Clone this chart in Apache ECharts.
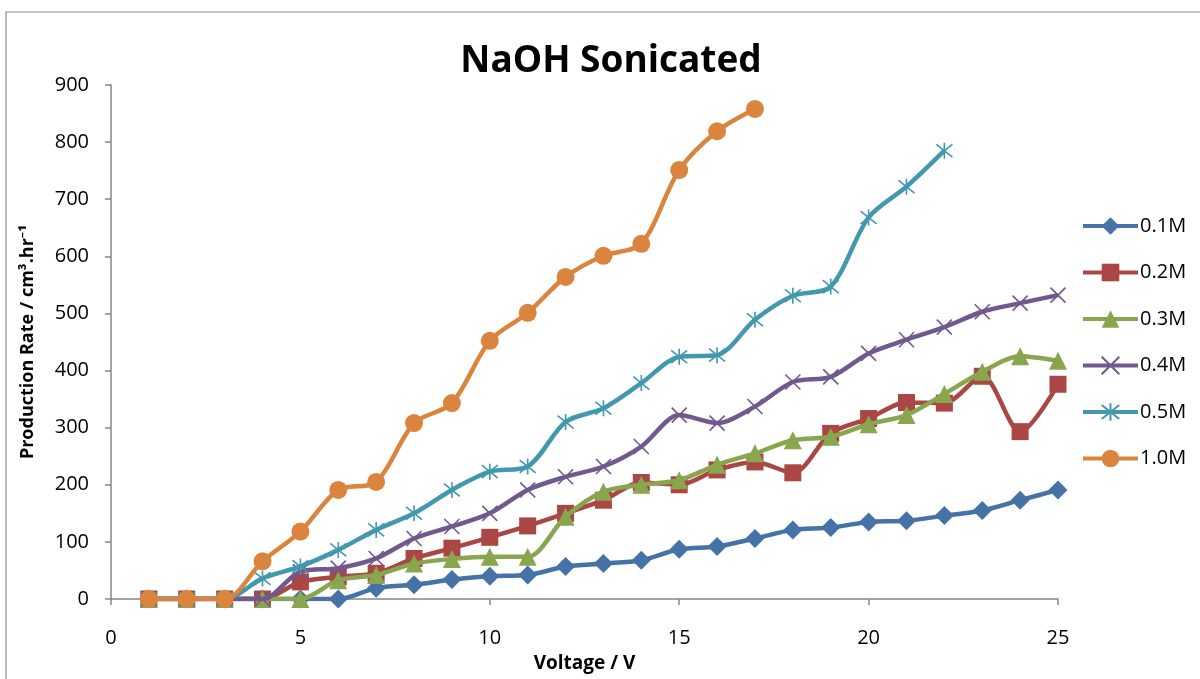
<!DOCTYPE html>
<html>
<head>
<meta charset="utf-8">
<script src="https://cdn.jsdelivr.net/npm/echarts@6/dist/echarts.min.js"></script>
<style>
html,body{margin:0;padding:0;background:#fff;}
#chart{width:1200px;height:679px;}
</style>
</head>
<body>
<div id="chart"></div>
<script>
const voltage = [1,2,3,4,5,6,7,8,9,10,11,12,13,14,15,16,17,18,19,20,21,22,23,24,25];
const seriesNames = ['0.1M','0.2M','0.3M','0.4M','0.5M','1.0M'];
const m01 = [0,0,0,0,0,0,19,25,34,40,42,57,62,68,87,92,106,121,125,135,137,146,155,173,191];
const m02 = [0,0,0,0,30,39,45,71,89,108,128,150,173,204,200,226,240,221,290,316,344,343,390,293,376];
const m03 = [0,0,0,0,0,33,42,62,70,74,74,144,188,200,208,235,255,278,284,306,322,359,398,425,417];
const m04 = [0,0,0,0,48,54,71,106,127,150,191,214,232,267,322,308,337,380,389,430,454,476,503,518,532];
const m05 = [0,0,0,36,57,86,121,150,191,223,232,310,334,378,424,427,489,531,547,668,722,785];
const m10 = [0,0,0,66,118,191,205,308,343,452,501,564,601,622,751,819,858];
const xTicks = [0,5,10,15,20,25];
const yTicks = [0,100,200,300,400,500,600,700,800,900];

const colors = ['#4572a7','#aa4643','#89a54e','#71588f','#4198af','#db843d'];
const symbols = [
  'diamond',
  'rect',
  'triangle',
  'path://M0,0L10,10M10,0L0,10',
  'path://M0,1L10,9M10,1L0,9M5,0L5,10',
  'circle'
];
const sizes = [19,17,18,15,16,18];
const allData = [m01,m02,m03,m04,m05,m10];

const series = allData.map((arr, i) => {
  const open = i === 3 || i === 4;
  return {
    name: seriesNames[i],
    type: 'line',
    smooth: 0.3,
    data: arr.map((v, k) => [voltage[k], v]),
    symbol: symbols[i],
    symbolSize: sizes[i],
    showAllSymbol: true,
    lineStyle: {color: colors[i], width: 4.5},
    itemStyle: open ? {color: colors[i], borderColor: colors[i], borderWidth: 1.6} : {color: colors[i], borderWidth: 0},
    emphasis: {disabled: true},
    z: 2 + i
  };
});

const chart = echarts.init(document.getElementById('chart'), null, {renderer: 'canvas'});
const font = '"Open Sans", "Noto Sans", sans-serif';
chart.setOption({
  animation: false,
  backgroundColor: '#fff',
  title: {
    text: 'NaOH Sonicated',
    left: 606, top: 38, textAlign: 'center',
    textStyle: {fontFamily: font, fontWeight: 'bold', fontSize: 37, color: '#000'}
  },
  graphic: [{
    type: 'rect', shape: {x: 6, y: 12, width: 1250, height: 720},
    style: {fill: 'none', stroke: '#8c8c8c', lineWidth: 1.2}, silent: true
  }],
  legend: {
    orient: 'vertical',
    left: 1076, top: 211,
    itemWidth: 55, itemHeight: 22, itemGap: 26.5,
    lineStyle: {width: 4},
    textStyle: {fontFamily: font, fontSize: 20, color: '#000', padding: [0,0,0,-3]},
    data: seriesNames
  },
  grid: {left: 111, right: 142, top: 85, bottom: 80, containLabel: false},
  xAxis: {
    type: 'value', min: 0, max: 25, interval: 5,
    name: 'Voltage / V', nameLocation: 'middle', nameGap: 55,
    nameTextStyle: {fontFamily: font, fontWeight: 'bold', fontSize: 19, color: '#000'},
    axisLine: {lineStyle: {color: '#868686', width: 1.5}},
    axisTick: {show: true, length: 6, lineStyle: {color: '#868686', width: 1.5}},
    axisLabel: {fontFamily: font, fontSize: 20, color: '#000', margin: 29, formatter: v => xTicks.includes(v) ? String(v) : ''},
    splitLine: {show: false}
  },
  yAxis: {
    type: 'value', min: 0, max: 900, interval: 100,
    name: 'Production Rate / cm³.hr⁻¹', nameLocation: 'middle', nameGap: 74, nameRotate: 90,
    nameTextStyle: {fontFamily: font, fontWeight: 'bold', fontSize: 18, color: '#000'},
    axisLine: {show: true, lineStyle: {color: '#868686', width: 1.5}},
    axisTick: {show: true, length: 6, lineStyle: {color: '#868686', width: 1.5}},
    axisLabel: {fontFamily: font, fontSize: 20, color: '#000', margin: 22, formatter: v => yTicks.includes(v) ? String(v) : ''},
    splitLine: {show: false}
  },
  series: series
});
</script>
</body>
</html>
